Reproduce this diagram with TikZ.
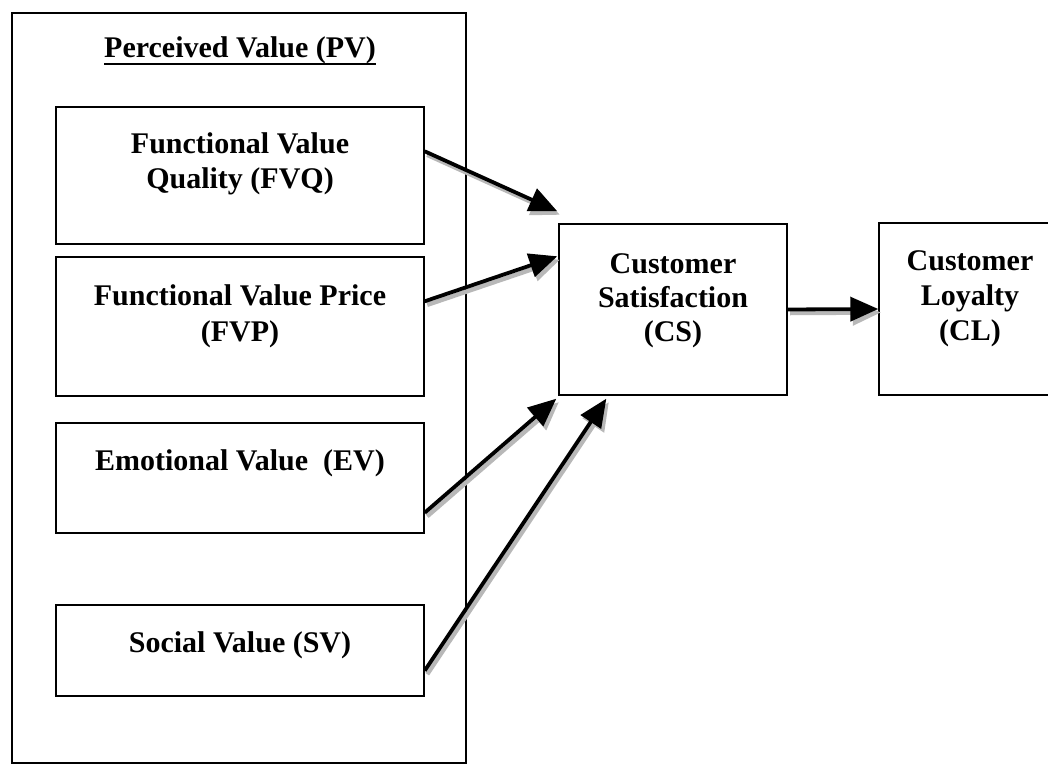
\documentclass[tikz,border=0pt]{standalone}
\usepackage{fontspec}
\setmainfont{Liberation Serif}
\usetikzlibrary{arrows.meta,calc}

\tikzset{
  box/.style={draw=black, line width=1.4pt, rectangle, inner sep=0pt, fill=white},
  groupbox/.style={draw=black, line width=2.6pt, rectangle, inner sep=0pt},
  lbl/.style={anchor=base, inner sep=0pt, font=\bfseries\fontsize{30}{34}\selectfont},
  link/.style={line width=3.8pt, -{Triangle[length=28pt,width=24pt]}},
  linkshadow/.style={line width=4.5pt, draw=black!28, -{Triangle[length=28pt,width=25pt,fill=black!28]},
    transform canvas={xshift=2.5pt,yshift=-3.5pt}},
}

\begin{document}
\begin{tikzpicture}[x=1pt,y=-1pt]
  \useasboundingbox (0,0) rectangle (1048,765);
  \clip (0,0) rectangle (1048,765);
  \fill[white] (0,0) rectangle (1048,765);

  % group frame for perceived value
  \node[groupbox, minimum width=454pt, minimum height=750pt] (pv) at (239,388) {};
  \node[lbl] (pvtitle) at (240,58) {Perceived Value (PV)};
  \draw[line width=1.8pt] ([yshift=-6pt]pvtitle.base west) -- ([yshift=-6pt]pvtitle.base east);

  % value dimensions
  \node[box, minimum width=368pt, minimum height=137pt] (fvq) at (240,175.5) {};
  \node[lbl] (fvqa) at (240,153) {Functional Value};
  \node[lbl] (fvqb) at (240,188) {Quality (FVQ)};

  \node[box, minimum width=368pt, minimum height=139pt] (fvp) at (240,326.5) {};
  \node[lbl] (fvpa) at (240,305) {Functional Value Price};
  \node[lbl] (fvpb) at (240,341) {(FVP)};

  \node[box, minimum width=368pt, minimum height=110pt] (ev) at (240,478) {};
  \node[lbl] (eva) at (240,470) {Emotional Value\ \ (EV)};

  \node[box, minimum width=368pt, minimum height=91pt] (sv) at (240,650.5) {};
  \node[lbl] (sva) at (240,652) {Social Value (SV)};

  % outcomes
  \node[box, minimum width=228pt, minimum height=171pt] (cs) at (673,309.5) {};
  \node[lbl] (csa) at (673,273) {Customer};
  \node[lbl] (csb) at (673,307) {Satisfaction};
  \node[lbl] (csc) at (673,341) {(CS)};

  \node[box, minimum width=182pt, minimum height=172pt] (cl) at (970,309) {};
  \node[lbl] (cla) at (970,270) {Customer};
  \node[lbl] (clb) at (970,305) {Loyalty};
  \node[lbl] (clc) at (970,340) {(CL)};

  % connector end points on the boxes
  \coordinate (fvqout) at ([yshift=-45pt]fvq.north east);
  \coordinate (fvpout) at ([yshift=-45pt]fvp.north east);
  \coordinate (evout)  at ([yshift=21pt]ev.south east);
  \coordinate (svout)  at ([yshift=26pt]sv.south east);
  \coordinate (csin1)  at ([xshift=-1pt,yshift=12pt]cs.north west);
  \coordinate (csin2)  at ([xshift=-1pt,yshift=-33pt]cs.north west);
  \coordinate (csin3)  at ([xshift=-2pt,yshift=-3pt]cs.south west);
  \coordinate (csin4)  at ([xshift=48pt,yshift=-3pt]cs.south west);

  % drop shadows of the arrows
  \draw[linkshadow] (fvqout) -- (csin1);
  \draw[linkshadow] (fvpout) -- (csin2);
  \draw[linkshadow] (evout) -- (csin3);
  \draw[linkshadow] (svout) -- (csin4);
  \draw[linkshadow] (cs.east) -- (cl.west);

  % arrows
  \draw[link] (fvqout) -- (csin1);
  \draw[link] (fvpout) -- (csin2);
  \draw[link] (evout) -- (csin3);
  \draw[link] (svout) -- (csin4);
  \draw[link] (cs.east) -- (cl.west);
\end{tikzpicture}
\end{document}
